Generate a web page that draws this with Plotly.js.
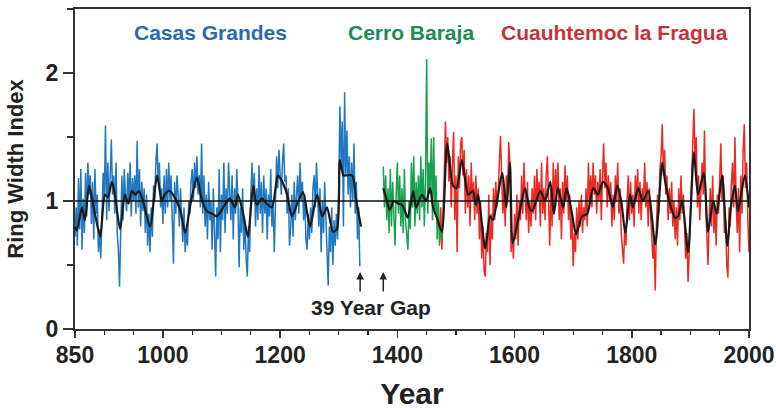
<!DOCTYPE html>
<html>
<head>
<meta charset="utf-8">
<script src="https://cdn.plot.ly/plotly-3.0.1.min.js"></script>
<style>
  html, body { margin: 0; padding: 0; background: #ffffff; }
  #chart { width: 776px; height: 410px; }
</style>
</head>
<body>
<div id="chart"></div>
<script>
// ---- Data ----
const yearStep = 2;

// Casas Grandes raw ring-width index, 850 .. 1336 (every 2 years)
const blueStart = 850;
const blueVals = [
0.72,0.95,0.65,1.18,0.78,1.25,0.62,1.02,0.75,1.22,
0.88,1.30,1.05,1.20,0.82,1.15,0.70,1.25,0.90,1.05,
0.60,0.78,0.55,0.95,1.22,1.00,1.59,0.85,1.30,0.92,
1.25,1.48,1.05,1.20,0.90,1.30,0.75,0.62,0.33,0.90,
1.20,0.85,1.25,1.05,0.92,1.22,1.00,1.30,0.88,1.18,
1.00,1.20,0.90,1.47,0.95,1.25,0.80,1.15,0.92,1.10,
0.75,1.05,0.65,0.90,0.60,0.95,0.72,1.12,1.00,1.30,
1.45,1.15,1.30,0.95,1.10,0.82,1.20,0.90,1.25,0.95,
1.30,1.00,1.20,0.85,0.51,1.15,0.90,1.20,1.05,0.80,
1.10,0.85,0.68,0.95,0.60,0.78,0.65,1.00,0.90,1.15,
1.25,1.00,1.30,1.10,1.35,1.05,1.20,0.95,1.45,0.90,
1.20,0.80,1.05,0.70,1.15,0.85,1.00,0.62,1.10,0.75,
0.41,0.95,0.70,1.25,0.60,1.05,0.85,1.30,0.75,1.10,
0.90,1.30,1.05,0.85,1.20,0.70,1.10,0.90,1.25,1.00,
0.48,0.95,0.75,1.10,0.62,0.85,0.55,0.41,0.80,0.60,
1.05,1.30,1.00,1.22,0.80,1.10,0.85,1.28,0.90,1.15,
0.75,1.20,0.90,1.10,0.70,1.05,0.88,1.25,0.80,1.00,
0.60,1.15,1.35,1.10,1.40,1.20,1.05,1.30,1.45,1.15,
1.20,0.90,1.10,0.65,0.80,1.05,0.72,1.15,0.85,1.05,
1.20,0.90,1.30,1.00,1.15,0.85,1.05,0.70,0.62,0.90,
0.70,0.95,0.75,1.10,1.20,0.95,1.30,1.05,0.80,1.10,
0.60,1.00,0.75,1.15,0.90,0.55,0.34,0.80,0.60,0.95,
0.50,0.85,0.65,0.90,0.70,1.10,1.74,1.30,1.62,0.80,
1.85,1.20,1.55,1.05,1.35,0.95,1.30,1.00,1.45,0.90,
1.15,0.70,0.95,0.49
];

// Cerro Baraja raw, 1376 .. 1476 (every 2 years)
const greenStart = 1376;
const greenVals = [
1.27,0.95,1.20,0.85,1.10,0.75,1.25,0.80,1.15,0.95,
0.65,1.05,1.30,0.90,1.20,0.80,1.10,0.75,1.25,0.85,
0.70,0.62,1.00,0.78,1.30,0.95,1.35,0.80,1.15,0.90,
1.20,0.85,1.35,0.95,1.25,0.80,1.15,2.11,0.90,1.30,
1.10,1.49,0.85,1.50,0.90,1.20,0.70,1.00,0.65,0.80,0.70
];

// Cuauhtemoc la Fragua raw, 1472 .. 2000 (every 2 years)
const redStart = 1472;
const redVals = [
0.70,0.95,0.62,0.85,1.20,1.62,1.30,1.50,1.15,1.35,
0.95,1.30,1.54,0.85,1.20,0.60,1.35,1.10,1.45,1.50,
1.20,1.40,0.90,1.25,0.95,1.20,0.80,1.30,1.00,1.15,
0.85,1.20,0.90,1.10,0.70,1.00,0.55,0.80,0.45,0.41,
0.75,0.60,1.05,0.50,0.90,0.70,1.10,0.85,1.15,0.95,
1.05,1.30,1.51,1.20,0.90,1.10,0.80,1.20,1.00,1.46,
1.30,0.60,0.75,0.55,0.90,0.70,1.05,0.65,1.00,0.85,
1.20,0.90,1.30,1.05,0.85,1.15,0.75,1.00,0.80,1.10,
0.90,1.20,0.85,1.25,1.00,1.15,0.80,1.30,0.90,1.10,
0.85,1.20,1.35,1.00,0.65,1.10,0.80,1.30,0.95,1.25,
1.05,1.30,0.85,1.10,0.70,1.15,0.90,1.28,1.00,1.20,
0.85,1.05,0.70,0.90,0.49,0.75,0.60,0.95,0.70,1.00,
0.80,1.05,0.75,0.95,0.85,1.10,0.80,1.30,1.00,1.20,
0.95,1.30,1.05,1.20,0.90,1.15,1.00,1.25,0.85,1.20,
1.45,1.10,1.30,0.95,1.20,1.00,1.15,0.80,1.05,0.85,
1.20,1.00,1.30,0.90,1.10,0.75,0.60,0.51,0.80,0.65,
1.00,1.20,0.85,1.15,0.90,1.05,0.80,1.20,1.00,1.25,
0.90,1.15,0.85,1.10,1.00,1.30,0.95,1.15,0.80,1.10,
0.90,0.75,0.55,0.70,0.30,0.80,1.05,0.90,1.25,1.35,
1.60,1.20,1.40,1.05,1.20,0.85,1.10,0.90,1.15,0.80,
1.00,0.70,0.95,0.65,1.10,0.85,1.20,0.90,1.05,0.80,
0.55,0.75,0.37,0.60,0.90,1.25,1.45,1.72,1.30,1.50,
0.95,1.20,0.85,1.10,1.30,1.05,1.55,1.00,0.70,0.50,
0.85,1.10,0.80,1.20,0.75,0.95,0.65,1.05,0.90,1.30,
1.45,1.00,1.20,0.75,0.85,0.50,0.40,0.95,0.80,1.15,
1.30,0.95,1.50,1.00,0.75,1.10,0.60,1.20,0.90,1.40,
1.60,1.10,1.30,0.85,0.60
];

// Smoothed (black) curve, early segment
const smoothAYears = [850,853,862,867,874,882,893,901,906,913,918,927,935,941,947,953,959,966,978,990,998,1003,1011,1020,1030,1038,1048,1058,1067,1075,1084,1092,1103,1114,1123,1128,1137,1145,1154,1160,1169,1177,1186,1196,1200,1212,1220,1231,1239,1251,1263,1272,1280,1290,1297,1302,1308,1313,1323,1330,1338];
const smoothAVals  = [0.80,0.77,0.95,0.85,1.12,0.95,0.72,1.05,1.03,1.15,1.05,0.78,1.05,0.98,1.08,1.05,1.08,1.00,0.80,1.20,1.00,1.05,1.08,1.03,0.92,0.75,1.00,1.18,1.00,0.92,0.90,0.88,0.95,1.02,0.95,1.05,0.90,0.72,1.12,0.97,1.02,0.98,0.95,1.20,1.18,1.05,0.88,1.00,1.07,0.80,1.05,0.88,0.95,0.76,0.78,1.32,1.20,1.20,1.20,1.00,0.80];

// Smoothed (black) curve, late segment
const smoothBYears = [1376,1381,1387,1394,1401,1408,1413,1418,1427,1432,1442,1449,1456,1461,1469,1476,1485,1495,1501,1510,1521,1529,1534,1538,1550,1558,1563,1570,1579,1586,1592,1597,1606,1618,1625,1630,1644,1652,1661,1667,1674,1683,1689,1698,1705,1715,1724,1734,1742,1751,1759,1768,1775,1782,1789,1797,1802,1811,1819,1828,1840,1852,1857,1865,1874,1879,1886,1896,1906,1913,1923,1930,1939,1945,1954,1963,1969,1976,1981,1993,2000];
const smoothBVals  = [1.10,1.02,0.93,1.00,0.98,0.97,0.92,0.87,1.08,0.95,1.05,1.00,1.10,0.95,0.85,0.76,1.45,1.12,1.10,1.32,1.05,1.08,0.97,1.05,0.63,0.88,0.85,1.00,1.22,0.95,1.30,0.67,0.85,1.10,0.95,0.92,1.08,1.00,1.15,0.90,1.10,0.95,1.10,0.90,0.74,0.88,0.90,1.10,1.05,1.15,1.10,0.95,1.12,1.00,0.75,1.05,0.95,1.10,1.00,1.08,0.66,1.30,1.15,0.98,0.87,0.88,1.00,0.60,1.38,1.05,1.22,0.76,1.00,0.90,1.20,0.65,0.95,1.12,0.92,1.20,0.95];

const xTickVals = [850, 1000, 1200, 1400, 1600, 1800, 2000];
const xTickText = ["850", "1000", "1200", "1400", "1600", "1800", "2000"];
const yTickVals = [0, 1, 2];
const yTickText = ["0", "1", "2"];
const seriesNames = ["Casas Grandes", "Cerro Baraja", "Cuauhtemoc la Fragua"];
const gapYears = [1336.5, 1376];
const gapLabel = "39 Year Gap";

// ---- Build ----
function yearsFor(start, vals) { return vals.map((_, i) => start + i * yearStep); }

const blueColor = "#1f78c0", greenColor = "#17a04e", redColor = "#ec2a24";
const rawWidth = 1.5;

const traces = [
  { x: yearsFor(blueStart, blueVals), y: blueVals, type: "scatter", mode: "lines",
    line: { color: blueColor, width: rawWidth }, hoverinfo: "skip" },
  { x: yearsFor(redStart, redVals), y: redVals, type: "scatter", mode: "lines",
    line: { color: redColor, width: rawWidth }, hoverinfo: "skip" },
  { x: yearsFor(greenStart, greenVals), y: greenVals, type: "scatter", mode: "lines",
    line: { color: greenColor, width: rawWidth }, hoverinfo: "skip" },
  { x: smoothAYears, y: smoothAVals, type: "scatter", mode: "lines",
    line: { color: "#1a1a1a", width: 2.2, shape: "spline", smoothing: 0.7 }, hoverinfo: "skip" },
  { x: smoothBYears, y: smoothBVals, type: "scatter", mode: "lines",
    line: { color: "#1a1a1a", width: 2.2, shape: "spline", smoothing: 0.7 }, hoverinfo: "skip" }
];

const tickFont = { family: "Liberation Sans, Arial, sans-serif", size: 23, color: "#222", weight: "bold" };
const labelFont = (c) => ({ family: "Liberation Sans, Arial, sans-serif", size: 21, color: c, weight: "bold" });

const annotations = [
  { text: seriesNames[0], xref: "paper", yref: "paper", x: 0.2003, y: 0.925, showarrow: false,
    xanchor: "center", yanchor: "middle", font: labelFont("#2a6bab") },
  { text: seriesNames[1], xref: "paper", yref: "paper", x: 0.4985, y: 0.925, showarrow: false,
    xanchor: "center", yanchor: "middle", font: labelFont("#1c8c52") },
  { text: seriesNames[2], xref: "paper", yref: "paper", x: 0.801, y: 0.925, showarrow: false,
    xanchor: "center", yanchor: "middle", font: labelFont("#c9313a") },
  { text: gapLabel, xref: "paper", yref: "paper", x: 0.439, y: 0.066, showarrow: false,
    xanchor: "center", yanchor: "middle", font: labelFont("#222") }
];
gapYears.forEach(yr => annotations.push({
  text: "", x: yr, y: 0.445, xref: "x", yref: "y", showarrow: true,
  ax: 0, ay: 21, axref: "pixel", ayref: "pixel",
  arrowhead: 2, arrowsize: 1, arrowwidth: 1.5, arrowcolor: "#222"
}));

const layout = {
  width: 776, height: 410,
  margin: { l: 75, r: 27, t: 9, b: 81 },
  paper_bgcolor: "#ffffff", plot_bgcolor: "#ffffff",
  showlegend: false,
  xaxis: {
    range: [850, 2000], tickmode: "array", tickvals: xTickVals, ticktext: xTickText,
    ticks: "outside", ticklen: 7, tickwidth: 1.5, tickcolor: "#333", ticklabelstandoff: -3,
    minor: { tickmode: "linear", tick0: 850, dtick: 50, ticks: "outside", ticklen: 4, tickwidth: 1.2, tickcolor: "#333" },
    showgrid: false, zeroline: false, showline: true, linecolor: "#333", linewidth: 2, mirror: true,
    tickfont: tickFont,
    title: { text: "Year", font: { family: "Liberation Sans, Arial, sans-serif", size: 30, color: "#222", weight: "bold" }, standoff: 18 }
  },
  yaxis: {
    range: [0, 2.5], tickmode: "array", tickvals: yTickVals, ticktext: yTickText,
    ticks: "outside", ticklen: 10, tickwidth: 1.5, tickcolor: "#333",
    minor: { tickmode: "linear", tick0: 0, dtick: 0.5, ticks: "outside", ticklen: 6, tickwidth: 1.2, tickcolor: "#333" },
    showgrid: false, zeroline: false, showline: true, linecolor: "#333", linewidth: 2, mirror: true,
    tickfont: tickFont,
    title: { text: "Ring Width Index", font: { family: "Liberation Sans, Arial, sans-serif", size: 22, color: "#222", weight: "bold" }, standoff: 16 }
  },
  shapes: [
    { type: "line", xref: "paper", yref: "y", x0: 0, x1: 1, y0: 1, y1: 1,
      line: { color: "#111", width: 1.6 }, layer: "above" }
  ],
  annotations: annotations
};

Plotly.newPlot("chart", traces, layout, { displayModeBar: false, staticPlot: true });
</script>
</body>
</html>
